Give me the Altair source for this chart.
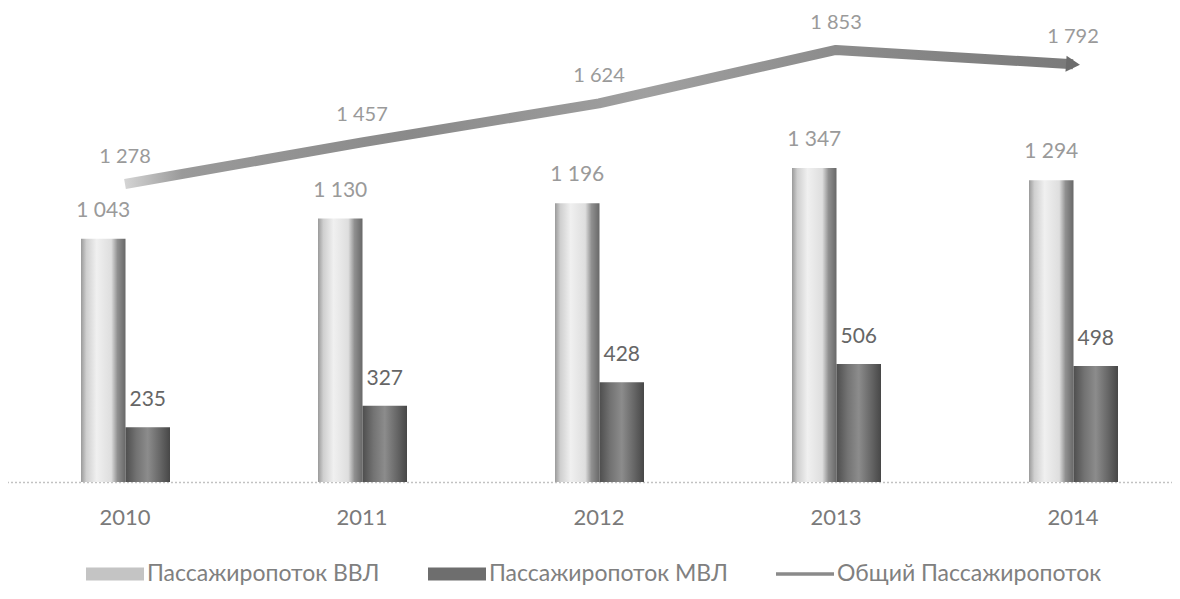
import altair as alt
import pandas as pd

years = ["2010", "2011", "2012", "2013", "2014"]
vvl = [1043, 1130, 1196, 1347, 1294]
mvl = [235, 327, 428, 506, 498]
total = [1278, 1457, 1624, 1853, 1792]
series_names = ["Пассажиропоток ВВЛ", "Пассажиропоток МВЛ", "Общий Пассажиропоток"]

FONT = "Lato"


def fmt(v):
    return f"{v:,}".replace(",", " ")


bar_rows = []
for y, v in zip(years, vvl):
    bar_rows.append({"year": y, "series": series_names[0], "value": v, "label": fmt(v)})
for y, v in zip(years, mvl):
    bar_rows.append({"year": y, "series": series_names[1], "value": v, "label": fmt(v)})
bars_df = pd.DataFrame(bar_rows)
line_df = pd.DataFrame({"year": years, "total": total, "label": [fmt(v) for v in total]})
legend_df = pd.DataFrame({"series": series_names})

x_scale = alt.Scale(domain=years, range=[-1.5, 1183.5], paddingInner=0, paddingOuter=0)
y_scale = alt.Scale(domain=[0, 1973], nice=False, zero=True)
xo_scale = alt.Scale(domain=series_names[:2], range=[74.5, 163.5], paddingInner=0, paddingOuter=0)

x_axis = alt.Axis(
    title=None, labelAngle=0, labelFont=FONT, labelFontSize=22, labelColor="#7a7a7a",
    labelPadding=35, labelBaseline="middle", ticks=False, grid=False,
    domain=True, domainColor="#c2c2c2", domainDash=[2, 2], domainWidth=1.3,
)

X = alt.X("year:N", scale=x_scale, axis=x_axis)
XO = alt.XOffset("series:N", scale=xo_scale)
YV = alt.Y("value:Q", scale=y_scale, axis=None)
YT = alt.Y("total:Q", scale=y_scale, axis=None)


def hgrad(stops):
    return alt.Gradient(
        gradient="linear", x1=0, x2=1, y1=0, y2=0,
        stops=[alt.GradientStop(offset=o, color=c) for o, c in stops],
    )


grad_vvl = hgrad([(0, "#9a9a9a"), (0.12, "#cfcfcf"), (0.35, "#f0f0f0"),
                  (0.68, "#dedede"), (0.82, "#909090"), (1, "#686868")])
grad_mvl = hgrad([(0, "#4e4e4e"), (0.25, "#737373"), (0.5, "#8c8c8c"),
                  (0.78, "#666666"), (1, "#474747")])
grad_line = hgrad([(0, "#d4d4d4"), (0.06, "#9a9a9a"), (0.3, "#8a8a8a"),
                   (0.55, "#a0a0a0"), (0.75, "#8c8c8c"), (1, "#7a7a7a")])

RECT = "M-1,-0.22L1,-0.22L1,0.22L-1,0.22Z"
THIN = "M-1,-0.06L1,-0.06L1,0.06L-1,0.06Z"

legend = alt.Legend(
    orient="none", legendX=78, legendY=523, direction="horizontal", title=None,
    labelFont=FONT, labelFontSize=23, labelColor="#808080", labelOffset=3, labelLimit=0,
    symbolSize=3364, symbolOpacity=1, symbolStrokeWidth=0, columnPadding=48, padding=0,
)

legend_layer = alt.Chart(legend_df).mark_point(filled=True, opacity=0).encode(
    color=alt.Color(
        "series:N",
        scale=alt.Scale(domain=series_names, range=["#c4c4c4", "#6e6e6e", "#8a8a8a"]),
        legend=legend,
    ),
    shape=alt.Shape(
        "series:N",
        scale=alt.Scale(domain=series_names, range=[RECT, RECT, THIN]),
        legend=legend,
    ),
)

vvl_bars = alt.Chart(bars_df).transform_filter(
    alt.datum.series == series_names[0]
).mark_bar(fill=grad_vvl).encode(x=X, xOffset=XO, y=YV)

mvl_bars = alt.Chart(bars_df).transform_filter(
    alt.datum.series == series_names[1]
).mark_bar(fill=grad_mvl).encode(x=X, xOffset=XO, y=YV)

vvl_text = alt.Chart(bars_df).transform_filter(
    alt.datum.series == series_names[0]
).mark_text(font=FONT, fontSize=21, color="#9a9a9a", baseline="middle", dy=-28).encode(
    x=X, xOffset=XO, y=YV, text="label:N"
)

mvl_text = alt.Chart(bars_df).transform_filter(
    alt.datum.series == series_names[1]
).mark_text(font=FONT, fontSize=21, color="#666666", baseline="middle", dy=-27).encode(
    x=X, xOffset=XO, y=YV, text="label:N"
)

line = alt.Chart(line_df).mark_line(
    strokeWidth=10, stroke=grad_line, strokeCap="butt", strokeJoin="round"
).encode(x=X, y=YT)

arrow = alt.Chart(line_df).transform_filter(
    alt.datum.year == years[-1]
).mark_point(shape="triangle-right", filled=True, size=260, angle=4, color="#6c6c6c", opacity=1).encode(
    x=X, y=YT
)

line_text = alt.Chart(line_df).mark_text(
    font=FONT, fontSize=20, color="#9a9a9a", baseline="middle", dy=-27
).encode(x=X, y=YT, text="label:N")

chart = alt.layer(
    vvl_bars, mvl_bars, line, arrow, vvl_text, mvl_text, line_text, legend_layer
).properties(
    width=1164, height=460, autosize=alt.AutoSizeParams(type="none"),
    padding={"left": 0, "top": 14, "right": 0, "bottom": 106},
    background="white",
).configure_view(stroke=None)

chart.save("out.html", embed_options={"renderer": "svg", "actions": False})
